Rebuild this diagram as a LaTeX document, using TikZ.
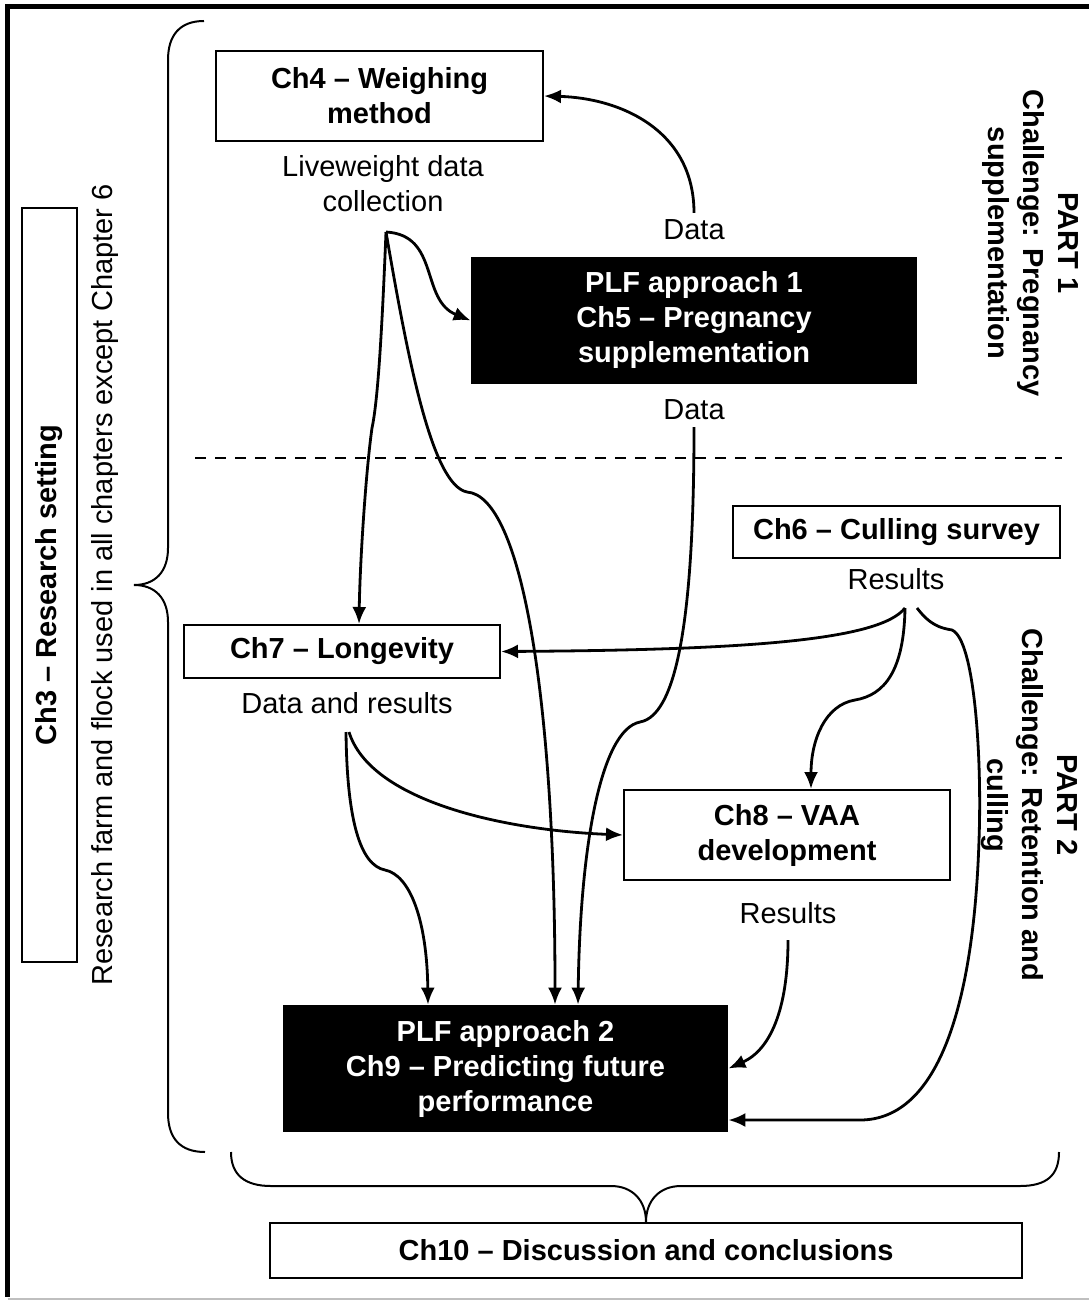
\documentclass[tikz,border=0pt]{standalone}
\usepackage{fontspec}
\setmainfont{Liberation Sans}
\usetikzlibrary{arrows.meta}

\begin{document}
\begin{tikzpicture}[x=0.5pt,y=-0.5pt,
    every node/.style={font=\fontsize{14.5}{17.5}\selectfont, align=center},
    chbox/.style={draw, line width=1pt, inner sep=2pt, font=\fontsize{14.5}{17.5}\selectfont\bfseries},
    plfbox/.style={fill=black, text=white, inner sep=2pt, font=\fontsize{14.5}{17.5}\selectfont\bfseries},
    link/.style={draw, line width=1.4pt, -{Latex[length=8.5pt,width=7pt]}},
    curly/.style={draw, line width=1pt}]
  \useasboundingbox (0,0) rectangle (1089,1300);
  % frame
  \draw[line width=2.5pt] (5,6.5) -- (1089,6.5);
  \draw[line width=2.5pt] (7.5,4) -- (7.5,1297);
  \draw[black!25, line width=1pt] (7.5,1298.5) -- (1089,1298.5);

  % chapters
  \node[chbox, rotate=90, minimum width=377pt, minimum height=27.5pt] (ch3) at (49.5,585) {Ch3 – Research setting};
  \node[rotate=90] (farm) at (105,585) {Research farm and flock used in all chapters except Chapter 6};
  \node[chbox, minimum width=163.5pt, minimum height=45pt] (ch4) at (379.5,96) {Ch4 – Weighing\\method};
  \node[plfbox, minimum width=223pt, minimum height=63.5pt] (ch5) at (694,320.5) {PLF approach 1\\Ch5 – Pregnancy\\supplementation};
  \node[chbox, minimum width=163.5pt, minimum height=26pt] (ch6) at (896.5,532) {Ch6 – Culling survey};
  \node[chbox, minimum width=158pt, minimum height=26.5pt] (ch7) at (342,651.5) {Ch7 – Longevity};
  \node[chbox, minimum width=163pt, minimum height=45pt] (ch8) at (787,835) {Ch8 – VAA\\development};
  \node[plfbox, minimum width=222.5pt, minimum height=63.5pt] (ch9) at (505.5,1068.5) {PLF approach 2\\Ch9 – Predicting future\\performance};
  \node[chbox, minimum width=376pt, minimum height=27.5pt] (ch10) at (646,1250.5) {Ch10 – Discussion and conclusions};

  % outputs
  \node (lw) at (383,184) {Liveweight data\\collection};
  \node (d1) at (694,230) {Data};
  \node (d2) at (694,410) {Data};
  \node (r6) at (896,579) {Results};
  \node (dr7) at (347,703) {Data and results};
  \node (r8) at (788,913) {Results};

  % parts
  \node[rotate=-90, font=\fontsize{14.5}{17.5}\selectfont\bfseries] (part1) at (1030,243) {PART 1\\Challenge: Pregnancy\\supplementation};
  \node[rotate=-90, font=\fontsize{14.5}{17.5}\selectfont\bfseries] (part2) at (1030,805) {PART 2\\Challenge: Retention and\\culling};
  \draw[line width=1pt, dash pattern=on 5.5pt off 4.5pt] (195,458) -- (1062,458);

  % braces
  \path[curly] (204,21) .. controls (180,21) and (168,35) .. (168,60) -- (168,548)
    .. controls (168,572) and (155,585) .. (134,585)
    .. controls (155,585) and (168,598) .. (168,622) -- (168,1113)
    .. controls (168,1138) and (180,1152) .. (205,1152);
  \path[curly] (231,1152) .. controls (231,1175) and (245,1186) .. (271,1186) -- (611,1186)
    .. controls (632,1186) and (646,1200) .. (646,1222)
    .. controls (646,1200) and (660,1186) .. (681,1186) -- (1020,1186)
    .. controls (1047,1186) and (1059,1175) .. (1059,1152);

  % flows
  \coordinate (lwj) at (386,232);
  \coordinate (r6j) at (905,608);
  \coordinate (dr7j) at (346,732);
  \coordinate (r8j) at (788,940);
  \path[link] (d1.north) .. controls (694,130) and (620,98) .. (ch4.east);
  \path[link] (lwj) .. controls (440,235) and (420,300) .. (ch5.west);
  \path[link] (lwj) .. controls (382,330) and (378,400) .. (372,428)
    .. controls (366,470) and (360,560) .. ([xshift=8.5pt]ch7.north);
  \path[link] (lwj) .. controls (408,360) and (432,485) .. (467,492)
    .. controls (522,496) and (555,700) .. ([xshift=24.75pt]ch9.north);
  \path[link] (d2.south) .. controls (694,600) and (680,715) .. (640,722)
    .. controls (600,730) and (580,850) .. ([xshift=36.25pt]ch9.north);
  \path[link] (r6j) .. controls (880,640) and (750,650) .. (ch7.east);
  \path[link] (r6j) .. controls (904,670) and (885,695) .. (855,700)
    .. controls (825,705) and (811,740) .. ([xshift=12pt]ch8.north);
  \path[link] ([xshift=6pt]r6j) .. controls (930,625) and (940,628) .. (952,630)
    .. controls (975,640) and (982,760) .. (979,840)
    .. controls (974,1000) and (940,1120) .. (860,1120) -- ([yshift=-25.75pt]ch9.east);
  \path[link] (dr7j) .. controls (347,820) and (360,865) .. (385,870)
    .. controls (410,875) and (427,920) .. ([xshift=-38.75pt]ch9.north);
  \path[link] ([xshift=1.5pt]dr7j) .. controls (370,800) and (500,830) .. (ch8.west);
  \path[link] (r8j) .. controls (788,1010) and (770,1050) .. (ch9.east);
\end{tikzpicture}
\end{document}
